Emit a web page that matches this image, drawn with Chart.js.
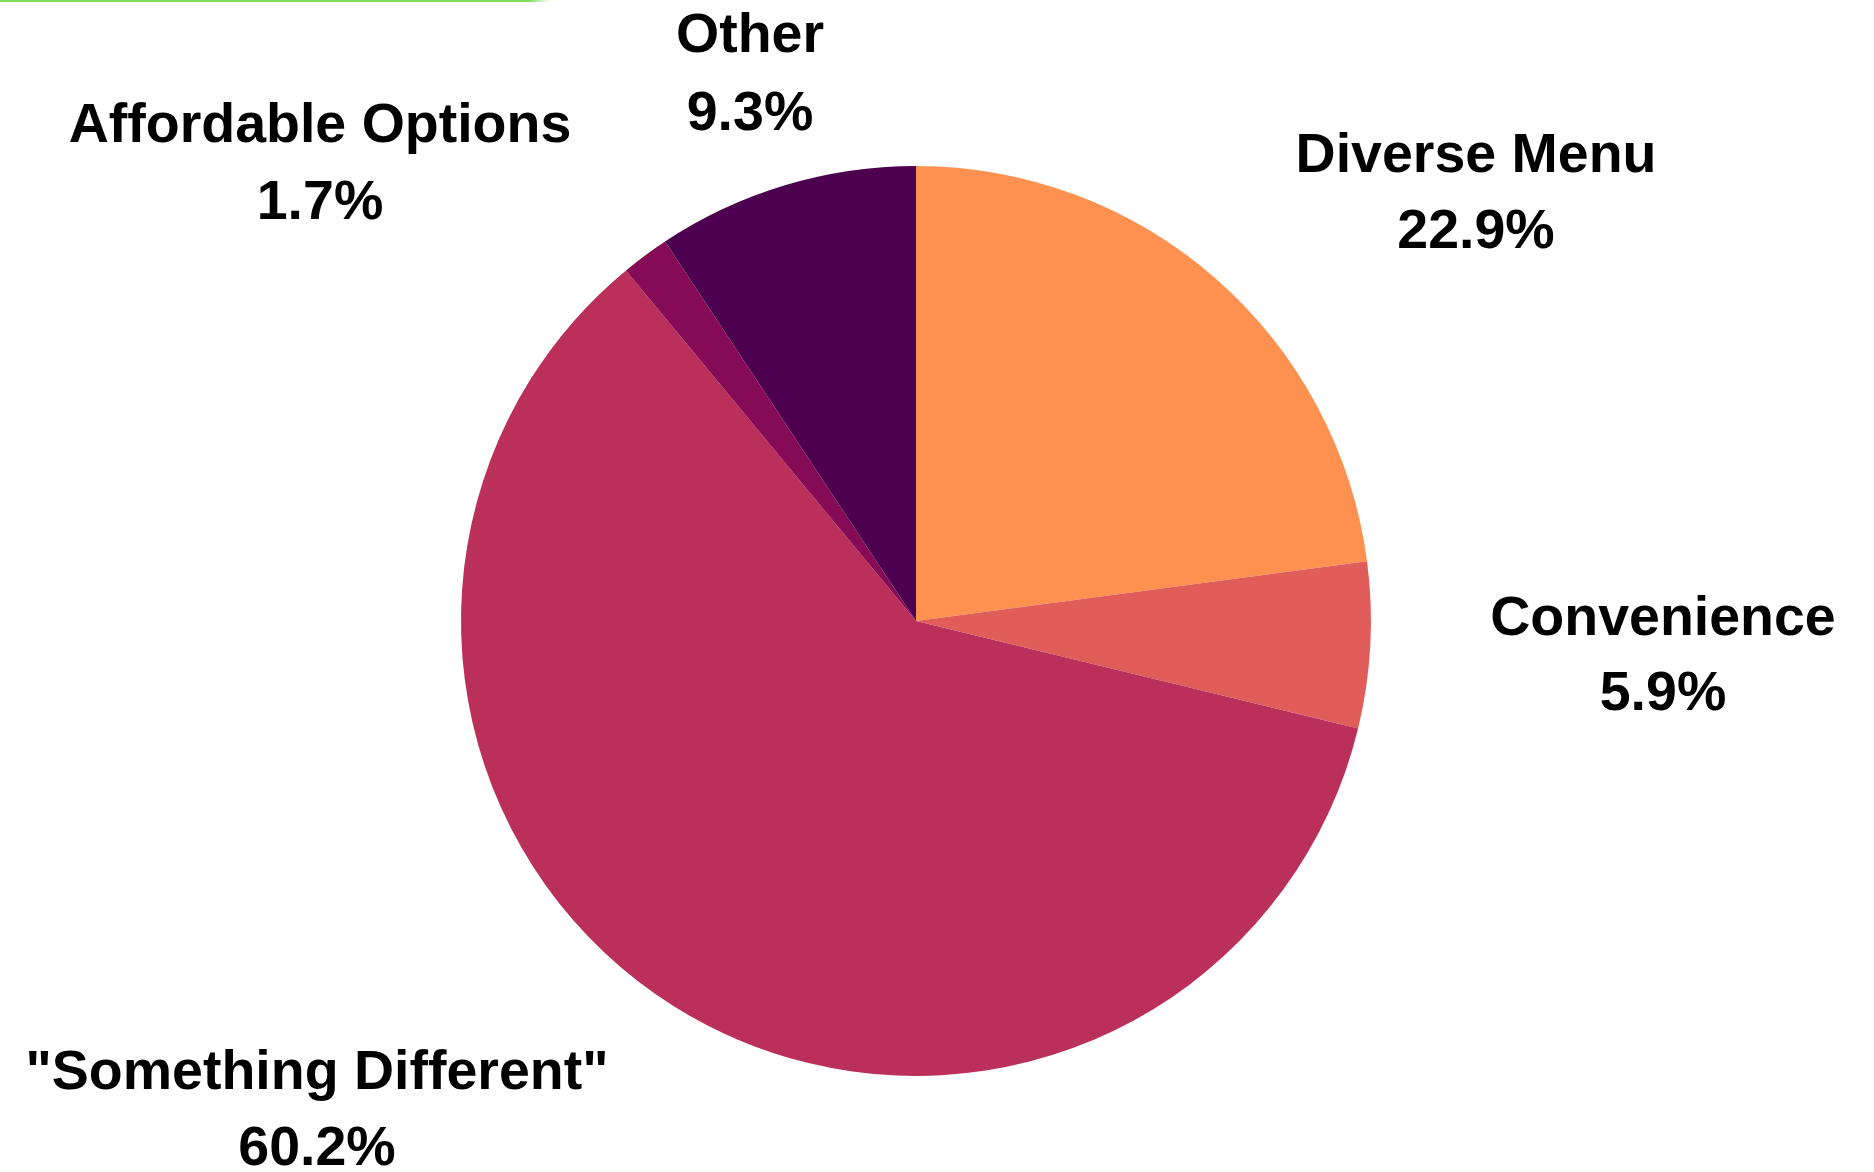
<!DOCTYPE html>
<html>
<head>
<meta charset="utf-8">
<script src="https://cdn.jsdelivr.net/npm/chart.js@4.4.1/dist/chart.umd.min.js"></script>
<style>
    body { margin: 0; background: #ffffff; overflow: hidden; }
    #wrap { position: relative; width: 1874px; height: 1172px; }
    #topLine {
        position: absolute; left: 0; top: 0; width: 550px; height: 2px;
        background: linear-gradient(to right, #7fd95a 96%, rgba(127, 217, 90, 0));
    }
</style>
</head>
<body>
<div id="wrap">
    <canvas id="miGrafico" width="1874" height="1172"></canvas>
    <div id="topLine"></div>
</div>
<script>
// Datos del gráfico (porcentajes)
const categorias = ['Diverse Menu', 'Convenience', '"Something Different"', 'Affordable Options', 'Other'];
const valores = [22.9, 5.9, 60.2, 1.7, 9.3];
const colores = ['#fe914f', '#e15d5a', '#bb2f5b', '#850b57', '#4d004f'];

// Posición de cada etiqueta (centro x, línea base de la primera línea, separación)
const posEtiquetas = [
    { x: 1476, y: 172, gap: 76 },
    { x: 1663, y: 635, gap: 75 },
    { x: 317, y: 1089, gap: 76 },
    { x: 320, y: 142, gap: 77 },
    { x: 750, y: 52, gap: 78 }
];

// Plugin que dibuja las etiquetas fuera del pastel
const etiquetasPlugin = {
    id: 'etiquetas',
    afterDraw: function (chart) {
        const ctx = chart.ctx;
        const datos = chart.data.datasets[0].data;
        ctx.save();
        ctx.fillStyle = '#000000';
        ctx.font = 'bold 55.5px "Liberation Sans", Arial, sans-serif';
        ctx.textAlign = 'center';
        ctx.textBaseline = 'alphabetic';
        chart.data.labels.forEach(function (nombre, i) {
            const p = posEtiquetas[i];
            ctx.fillText(nombre, p.x, p.y);
            ctx.fillText(datos[i].toFixed(1) + '%', p.x, p.y + p.gap);
        });
        ctx.restore();
    }
};

const ctx = document.getElementById('miGrafico').getContext('2d');
const chartInstance = new Chart(ctx, {
    type: 'pie',
    data: {
        labels: categorias,
        datasets: [{
            data: valores,
            backgroundColor: colores,
            borderWidth: 0
        }]
    },
    options: {
        responsive: false,
        animation: false,
        layout: {
            padding: { left: 461, right: 503, top: 166, bottom: 96 }
        },
        plugins: {
            legend: { display: false },
            tooltip: { enabled: false }
        }
    },
    plugins: [etiquetasPlugin]
});
</script>
</body>
</html>
